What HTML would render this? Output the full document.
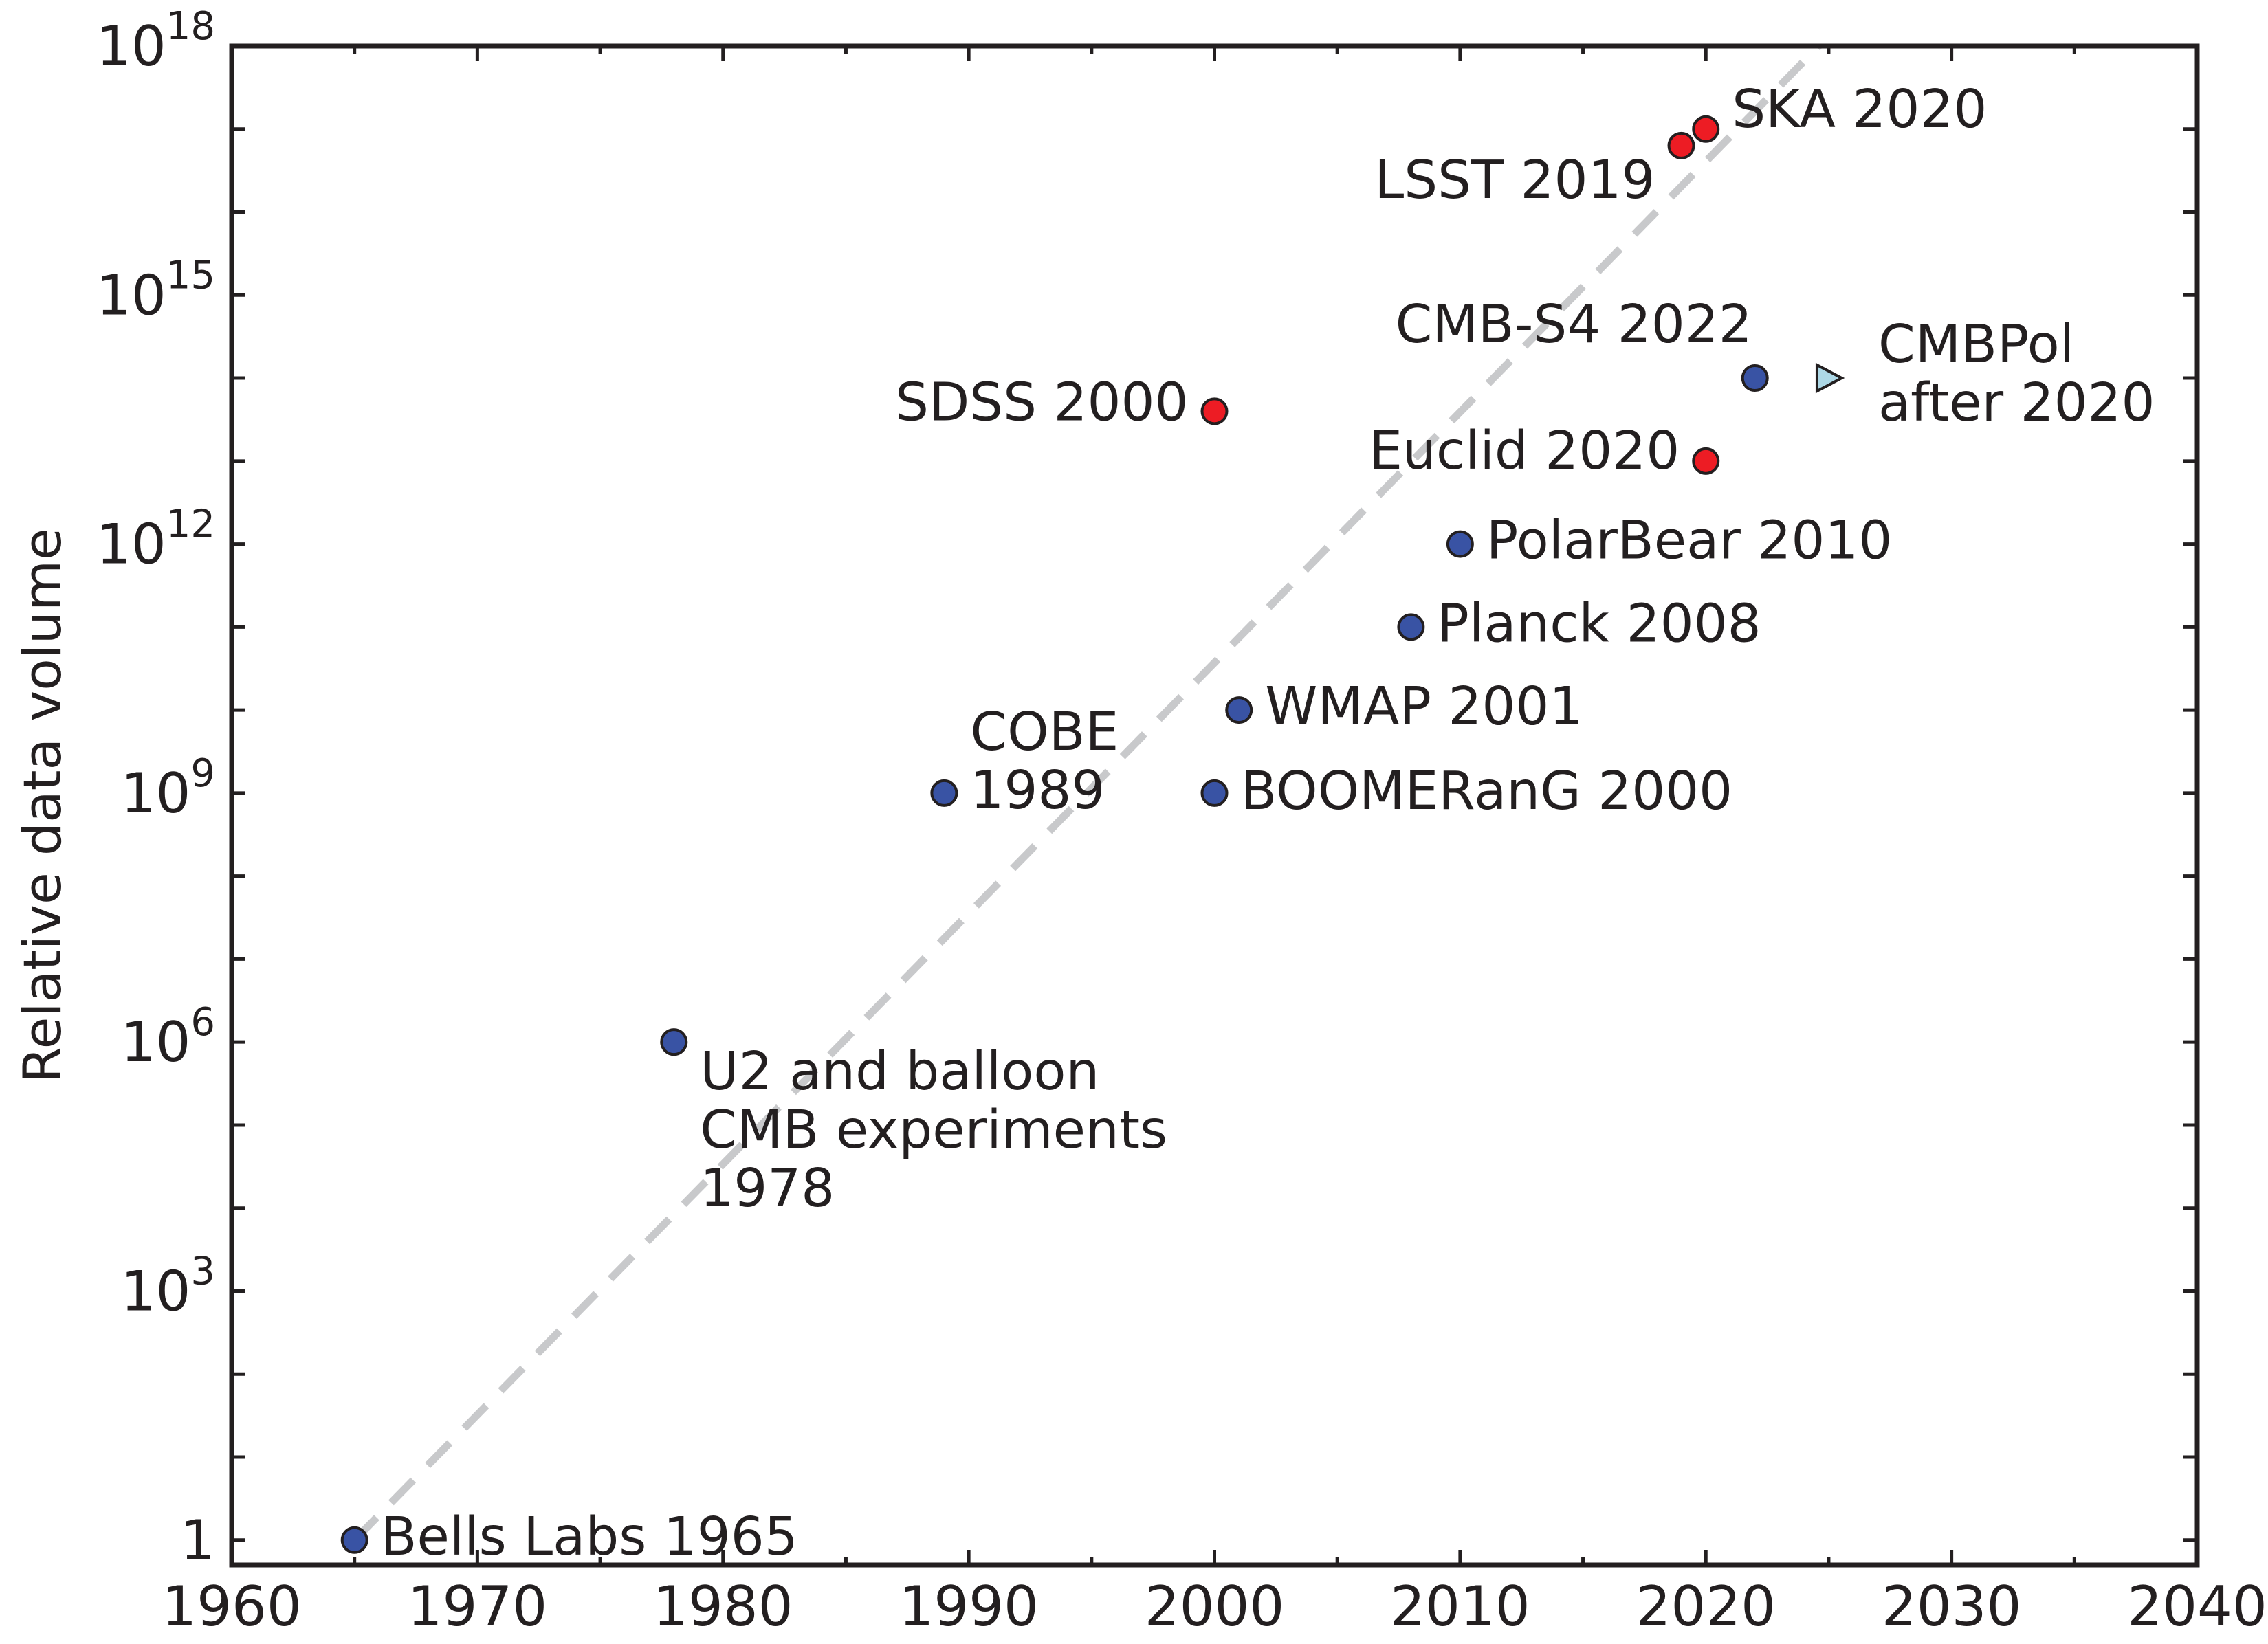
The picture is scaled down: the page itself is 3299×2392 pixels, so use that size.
<!DOCTYPE html>
<html><head><meta charset="utf-8"><style>
html,body{margin:0;padding:0;background:#fff}
svg{display:block}
text{font-family:"DejaVu Sans","Liberation Sans",sans-serif;fill:#231f20}
</style></head><body>
<svg id="chart" width="3299" height="2392" viewBox="0 0 3299 2392" xmlns="http://www.w3.org/2000/svg"></svg>
<script>
const names=["Bells Labs 1965","U2 and balloon|CMB experiments|1978","COBE|1989","BOOMERanG 2000","WMAP 2001","Planck 2008","PolarBear 2010","CMB-S4 2022","SDSS 2000","Euclid 2020","LSST 2019","SKA 2020","CMBPol|after 2020"];
const years=[1965,1978,1989,2000,2001,2008,2010,2022,2000,2020,2019,2020,2025];
const logVolumes=[0,6,9,9,10,11,12,14,13.6,13,16.8,17,14];
const kinds=["blue","blue","blue","blue","blue","blue","blue","blue","red","red","red","red","tri"];
const xTicks=[1960,1970,1980,1990,2000,2010,2020,2030,2040];
const yTickLabels=["1","10|3","10|6","10|9","10|12","10|15","10|18"];
const yTickExps=[0,3,6,9,12,15,18];
const trendYears=[1965,2024.6];
const trendLogs=[0,18];

const L=337,R=3196,T=67,B=2277,XMIN=1960,XMAX=2040,YMIN=-0.3,YMAX=18;
const sx=v=>L+(v-XMIN)/(XMAX-XMIN)*(R-L);
const sy=v=>B-(v-YMIN)/(YMAX-YMIN)*(B-T);
const svg=document.getElementById('chart');
const NS="http://www.w3.org/2000/svg";
function mk(tag,attrs,parent){const e=document.createElementNS(NS,tag);for(const k in attrs)e.setAttribute(k,attrs[k]);(parent||svg).appendChild(e);return e;}

const tl=mk('line',{x1:sx(trendYears[0]),y1:sy(trendLogs[0]),x2:sx(trendYears[1]),y2:sy(trendLogs[1]),stroke:'#c8c9cb','stroke-width':11,'stroke-dasharray':'46 30'});



const ticks=mk('g',{stroke:'#231f20','stroke-width':5});


for(let y=XMIN;y<=XMAX;y+=5){const major=y%10===0;const len=major?22:12;const x=sx(y);
 mk('line',{x1:x,y1:B,x2:x,y2:B-len},ticks);mk('line',{x1:x,y1:T,x2:x,y2:T+len},ticks);}
for(let e=0;e<=18;e++){const y=sy(e);mk('line',{x1:L,y1:y,x2:L+20,y2:y},ticks);mk('line',{x1:R,y1:y,x2:R-20,y2:y},ticks);}

xTicks.forEach(v=>{const t=mk('text',{x:sx(v),y:2365,'font-size':80,'text-anchor':'middle'});t.textContent=v;
 
 });
yTickExps.forEach((e,i)=>{const parts=yTickLabels[i].split('|');const y=sy(e)+28;
 const t=mk('text',{x:313,y:y,'font-size':80,'text-anchor':'end'});
 
 
 if(parts.length===1){t.textContent=parts[0];}
 else{const a=document.createElementNS(NS,'tspan');a.textContent=parts[0];t.appendChild(a);
  const b=document.createElementNS(NS,'tspan');b.setAttribute('dy','-38');b.setAttribute('font-size','56');b.textContent=parts[1];t.appendChild(b);}
});
const yt=mk('text',{x:0,y:0,'font-size':76,'text-anchor':'middle',transform:'translate(88,1172) rotate(-90)'});
yt.textContent='Relative data volume';



const fr=mk('rect',{x:L,y:T,width:R-L,height:B-T,fill:'none',stroke:'#231f20','stroke-width':7});



const lab=[[38,-6,'start'],[38,42,'start'],[38,-90,'start'],[38,-4,'start'],[38,-6,'start'],[38,-6,'start'],[38,-6,'start'],[-4,-79,'end'],[-38,-14,'end'],[-38,-16,'end'],[-38,49,'end'],[38,-30,'start'],[72,-50,'start']];
const colors={blue:'#3953a4',red:'#ed1c24',tri:'#add8e6'};
years.forEach((yr,i)=>{const cx=sx(yr),cy=sy(logVolumes[i]);let m;
 if(kinds[i]==='tri'){m=mk('polygon',{points:`${cx-17},${cy-19} ${cx+19},${cy} ${cx-17},${cy+19}`,fill:colors.tri,stroke:'#231f20','stroke-width':4});}
 else{m=mk('circle',{cx:cx,cy:cy,r:18,fill:colors[kinds[i]],stroke:'#231f20','stroke-width':4});}
 
 
 const lines=names[i].split('|');const o=lab[i];
 const t=mk('text',{x:cx+o[0],y:cy+o[1]+27,'font-size':77,'text-anchor':o[2]});
 
 
 lines.forEach((s,j)=>{const ts=document.createElementNS(NS,'tspan');ts.setAttribute('x',cx+o[0]);if(j>0)ts.setAttribute('dy','85');ts.textContent=s;t.appendChild(ts);});
});
</script>
</body></html>
